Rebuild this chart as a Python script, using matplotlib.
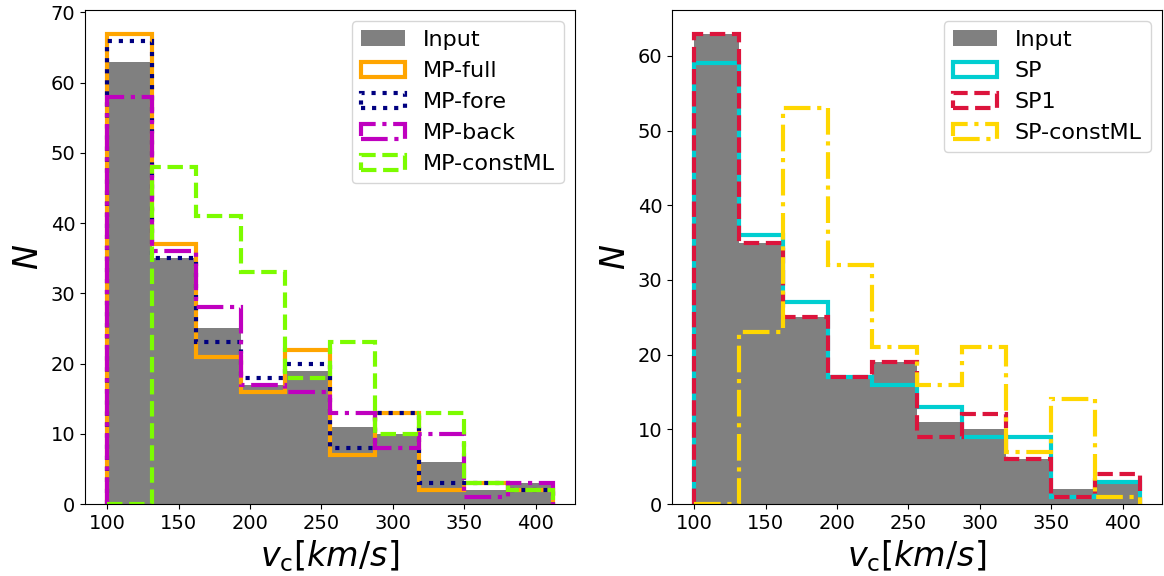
import numpy as np
import matplotlib
matplotlib.use("Agg")
import matplotlib.pyplot as plt

bin_edges = [100.0, 131.2, 162.4, 193.6, 224.8, 256.0, 287.2, 318.4, 349.6, 380.8, 412.0]

input_counts = [63, 35, 25, 17, 19, 11, 10, 6, 2, 3]

mp_full = [67, 37, 21, 16, 22, 7, 13, 2, 3, 2]
mp_fore = [66, 35, 23, 18, 20, 8, 13, 3, 3, 2]
mp_back = [58, 36, 28, 17, 16, 13, 8, 10, 1, 3]
mp_constml = [0, 48, 41, 33, 18, 23, 10, 13, 3, 2]

sp = [59, 36, 27, 17, 16, 13, 9, 9, 1, 3]
sp1 = [63, 35, 25, 17, 19, 9, 12, 6, 1, 4]
sp_constml = [0, 23, 53, 32, 21, 16, 21, 7, 14, 1]

left_series = [
    ("MP-full", mp_full, "orange", "-"),
    ("MP-fore", mp_fore, "navy", ":"),
    ("MP-back", mp_back, "m", "-."),
    ("MP-constML", mp_constml, "lawngreen", "--"),
]
right_series = [
    ("SP", sp, "darkturquoise", "-"),
    ("SP1", sp1, "crimson", "--"),
    ("SP-constML", sp_constml, "gold", "-."),
]

fig = plt.figure(figsize=(11.64, 5.76), dpi=100)
ax1 = fig.add_axes([85 / 1164, 72 / 576, 490 / 1164, 494 / 576])
ax2 = fig.add_axes([672 / 1164, 72 / 576, 490 / 1164, 494 / 576])

edges = np.array(bin_edges)
centers = 0.5 * (edges[:-1] + edges[1:])

for ax, series in ((ax1, left_series), (ax2, right_series)):
    ax.hist(centers, bins=edges, weights=input_counts, color="gray", label="Input")
    for name, vals, col, ls in series:
        ax.hist(centers, bins=edges, weights=vals, histtype="step", color=col,
                linestyle=ls, linewidth=3, label=name)
    ax.set_xlabel(r"$v_{\mathrm{c}}[km/s]$", fontsize=24)
    ax.set_ylabel(r"$N$", fontsize=24)
    ax.tick_params(labelsize=14)
    ax.set_xticks([100, 150, 200, 250, 300, 350, 400])
    ax.legend(loc="upper right", fontsize=16)

fig.savefig("out.png", dpi=100)
